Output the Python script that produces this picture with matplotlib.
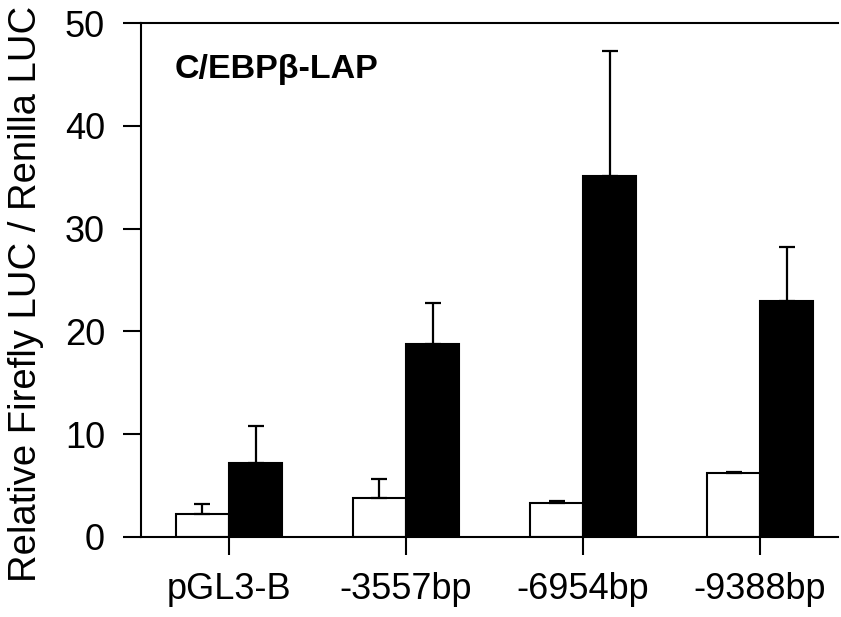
import numpy as np
import matplotlib
matplotlib.use("Agg")
import matplotlib.pyplot as plt

plt.rcParams['font.family'] = ['Liberation Sans', 'DejaVu Sans']

# data
categories = ['pGL3-B', '-3557bp', '-6954bp', '-9388bp']
control = [2.2, 3.8, 3.3, 6.2]
control_err = [1.0, 1.8, 0.2, 0.1]
lap = [7.2, 18.8, 35.1, 23.0]
lap_err = [3.6, 4.0, 12.2, 5.2]

fig = plt.figure(figsize=(8.41, 6.17), dpi=100)
ax = fig.add_axes([0.1677, 0.1297, 0.8287, 0.833])

x = np.arange(len(categories))
w = 0.3

# upper-only error bars
ax.bar(x - w / 2, control, w, color='white', edgecolor='black', linewidth=1.5,
       yerr=[[0] * 4, control_err], capsize=5.5,
       error_kw=dict(elinewidth=1.6, capthick=1.6, ecolor='black'), zorder=2)
ax.bar(x + w / 2, lap, w, color='black', edgecolor='black', linewidth=1.5,
       yerr=[[0] * 4, lap_err], capsize=5.5,
       error_kw=dict(elinewidth=1.6, capthick=1.6, ecolor='black'), zorder=2)

ax.set_xlim(-0.497, 3.44)
ax.set_ylim(0, 50)
ax.set_xticks(x)
ax.set_xticklabels(categories, fontsize=26)
ax.set_yticks(range(0, 51, 10))
ax.tick_params(axis='y', labelsize=26, direction='out', length=13, width=1.5, pad=13)
ax.tick_params(axis='x', direction='out', length=13, width=1.5, pad=12)

ax.spines['right'].set_visible(False)
for s in ['left', 'bottom', 'top']:
    ax.spines[s].set_linewidth(1.5)

ax.set_ylabel('Relative Firefly LUC / Renilla LUC', fontsize=27.5)
ax.yaxis.set_label_coords(-0.139, 0.473)
ax.text(-0.305, 45.5, 'C/EBP\u03b2-LAP', fontsize=24.5, fontweight='bold', va='center')

fig.savefig('out.png', dpi=100)
